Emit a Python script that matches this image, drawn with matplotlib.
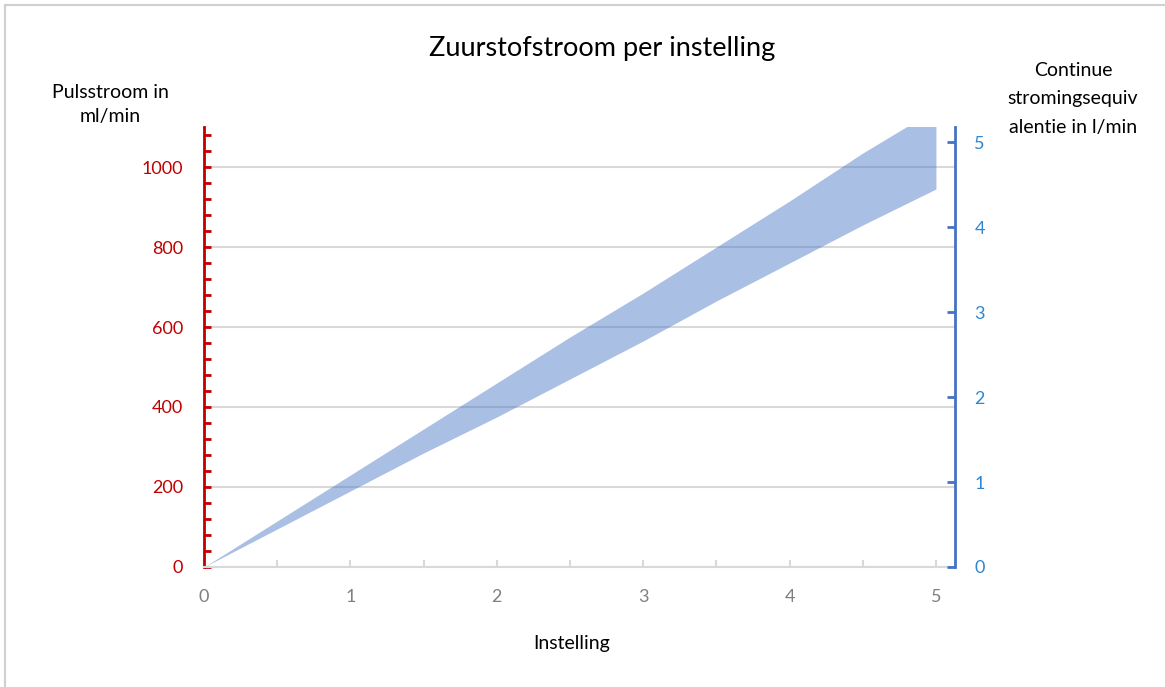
# Zuurstofstroom per instelling - band of pulse flow with secondary axis

import matplotlib.pyplot as plt
from matplotlib.patches import Rectangle
from matplotlib.ticker import MultipleLocator

plt.rcParams['font.family'] = ['Lato', 'DejaVu Sans']

# colors
col_red = '#C00000'
col_blue = '#4472C4'
col_blue_lbl = '#2E86D1'
col_grid = '#D9D9D9'
col_xlbl = '#7F7F7F'

# data
instelling = [0, 0.5, 1, 1.5, 2, 2.5, 3, 3.5, 4, 4.5, 5]
stroom_laag = [0, 95, 190, 285, 375, 470, 565, 665, 760, 855, 945]
stroom_hoog = [0, 115, 230, 345, 460, 575, 685, 800, 915, 1035, 1145]
x_ticks = [0, 1, 2, 3, 4, 5]
y_ticks = [0, 200, 400, 600, 800, 1000]
y2_ticks = [0, 1, 2, 3, 4, 5]

fig = plt.figure(figsize=(11.65, 6.87), dpi=100)
ax = fig.add_axes([0.1751, 0.1747, 0.8197 - 0.1751, 0.8151 - 0.1747])

# outer frame
fig.patches.append(Rectangle((0.004, -0.01), 1.1, 1.003, transform=fig.transFigure,
                             fill=False, edgecolor='#D0D0D0', linewidth=1.5))

ax.fill_between(instelling, stroom_laag, stroom_hoog, color=col_blue, alpha=0.45,
                linewidth=0, zorder=3)

ax.set_xlim(0, 5.13)
ax.set_ylim(0, 1100)
ax.set_yticks(y_ticks)
ax.yaxis.set_minor_locator(MultipleLocator(40))
ax.set_xticks(x_ticks)
ax.xaxis.set_minor_locator(MultipleLocator(0.5))
ax.grid(axis='y', color=col_grid, linewidth=1.5, zorder=1)
ax.set_axisbelow(True)

for s in ['top', 'right']:
    ax.spines[s].set_visible(False)
ax.spines['left'].set_color(col_red)
ax.spines['left'].set_linewidth(2)
ax.spines['bottom'].set_color(col_grid)
ax.spines['bottom'].set_linewidth(1.5)

ax.tick_params(axis='y', which='both', direction='in', color=col_red, width=2, length=5,
               labelcolor=col_red, labelsize=13, pad=15)
ax.tick_params(axis='x', which='both', direction='in', color=col_grid, width=1.5, length=5,
               labelcolor=col_xlbl, labelsize=13, pad=16)

# secondary axis (continuous flow equivalent)
ax2 = ax.twinx()
ax2.set_ylim(0, 5.18)
ax2.set_yticks(y2_ticks)
for s in ['top', 'left', 'bottom']:
    ax2.spines[s].set_visible(False)
ax2.spines['right'].set_color(col_blue)
ax2.spines['right'].set_linewidth(2)
ax2.tick_params(axis='y', direction='in', color=col_blue, width=2, length=6,
                labelcolor=col_blue_lbl, labelsize=13, pad=14)

fig.text(0.517, 0.930, 'Zuurstofstroom per instelling', ha='center', va='center', fontsize=19.5)
fig.text(0.095, 0.848, 'Pulsstroom in\nml/min', ha='center', va='center', fontsize=14,
         linespacing=1.55)
fig.text(0.921, 0.856, 'Continue\nstromingsequiv\nalentie in l/min', ha='center', va='center',
         fontsize=14, linespacing=1.8)
fig.text(0.491, 0.064, 'Instelling', ha='center', va='center', fontsize=14)

fig.savefig('out.png', dpi=100)
